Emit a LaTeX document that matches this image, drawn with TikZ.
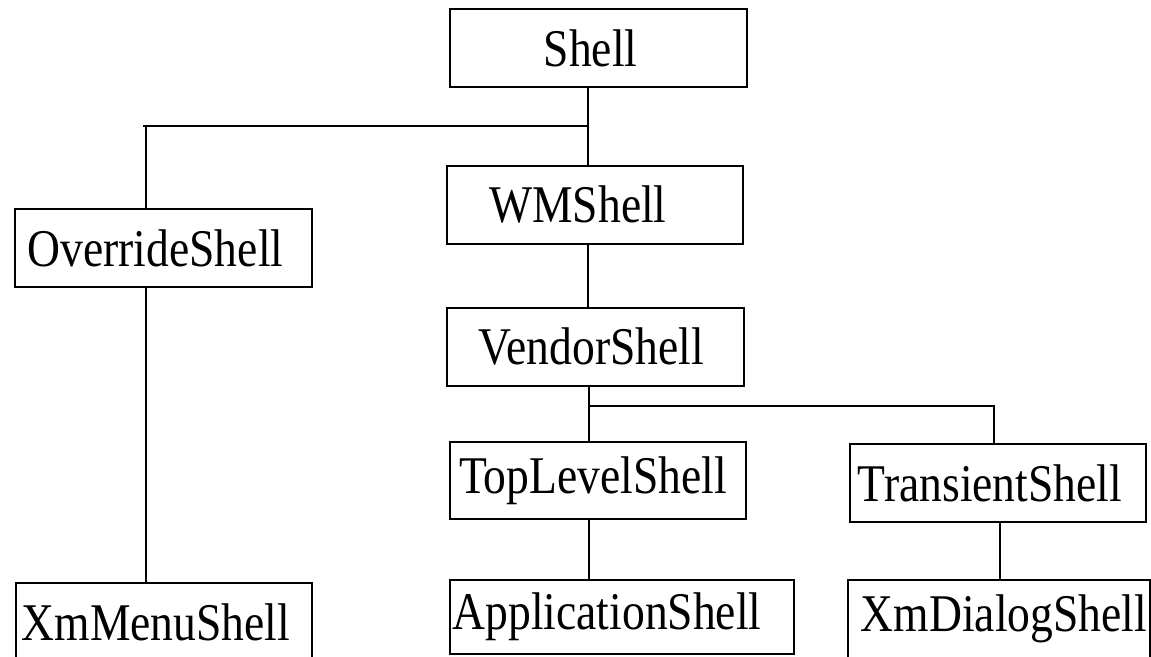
\documentclass[tikz,border=0pt]{standalone}
\usepackage{fontspec}
\setmainfont{Liberation Serif}
\newfontfamily\boxfont[FakeStretch=0.86]{Liberation Serif}
\usepackage{tikz}
\usetikzlibrary{calc,positioning}

\begin{document}
\begin{tikzpicture}[x=1pt,y=-1pt,
  box/.style={draw,line width=2.6pt,rectangle,inner sep=0pt,minimum height=78pt,
    font=\boxfont\fontsize{53}{56}\selectfont,execute at end node=\hspace*{16pt}},
  link/.style={line width=2pt}]
  \useasboundingbox (0,0) rectangle (1151,656);
  \clip (0,0) rectangle (1151,656);
  % the boxes
  \node[box,minimum width=297pt] (shell) at (598.5,48) {Shell};
  \node[box,minimum width=296pt] (wm) at (595,205) {WMShell\hspace*{18pt}};
  \node[box,minimum width=297pt] (override) at (163.5,248) {OverrideShell};
  \node[box,minimum width=297pt] (vendor) at (595.5,347) {VendorShell\hspace*{-8pt}};
  \node[box,minimum width=296pt,minimum height=77pt] (toplevel) at (598,480.5) {TopLevelShell\hspace*{-6pt}};
  \node[box,minimum width=296pt] (transient) at (998,483) {TransientShell};
  \node[box,minimum width=296pt] (xmmenu) at (164,622) {XmMenuShell};
  \node[box,minimum width=344pt,minimum height=74pt] (application) at (622,617) {ApplicationShell\hspace*{14pt}};
  \node[box,minimum width=302pt] (xmdialog) at (999,619) {XmDialogShell\hspace*{-26pt}};
  % junction points of the lines
  \coordinate (top) at (588,126);
  \coordinate (left) at (146,126);
  \coordinate (mid) at (589,406);
  \coordinate (right) at (994,406);
  \coordinate (far) at (1000,0);
  \draw[link] (shell.south -| top) -- (top) -- (wm.north -| top);
  \draw[link] (top) -- ([xshift=-3pt]left) (left) -- (override.north -| left);
  \draw[link] (wm.south -| top) -- (vendor.north -| top);
  \draw[link] (vendor.south -| mid) -- (mid) -- (toplevel.north -| mid);
  \draw[link] (mid) -- (right) -- (transient.north -| right);
  \draw[link] (override.south -| left) -- (xmmenu.north -| left);
  \draw[link] (toplevel.south -| mid) -- (application.north -| mid);
  \draw[link] (transient.south -| far) -- (xmdialog.north -| far);
\end{tikzpicture}
\end{document}
